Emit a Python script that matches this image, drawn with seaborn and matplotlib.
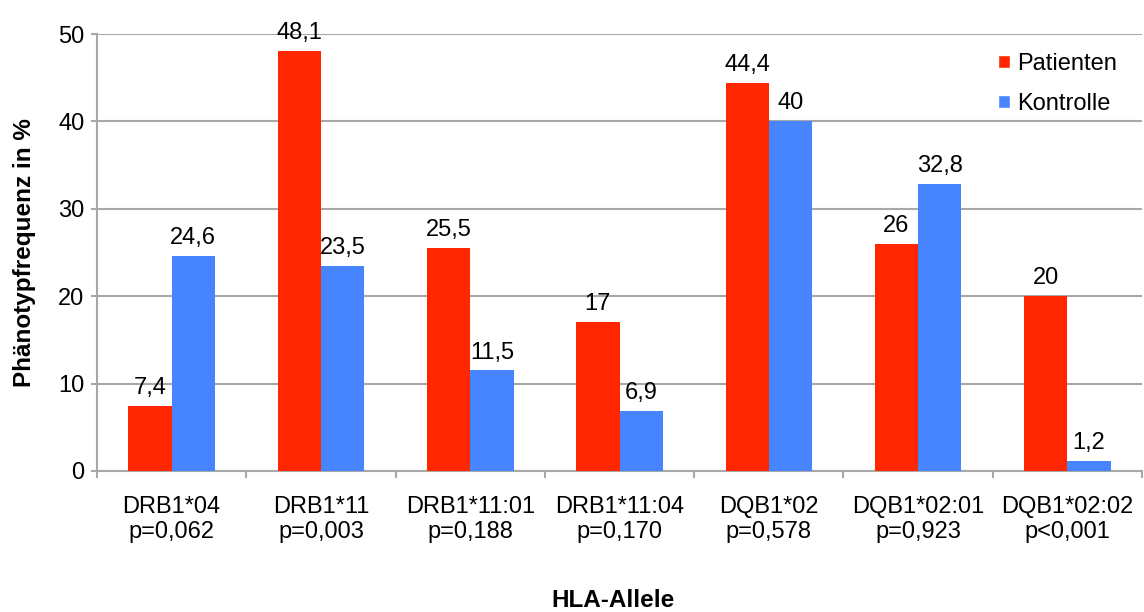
import pandas as pd
import seaborn as sns
import matplotlib.pyplot as plt
from matplotlib.patches import Patch

# Werte aus der Abbildung
allele = ['DRB1*04\np=0,062', 'DRB1*11\np=0,003', 'DRB1*11:01\np=0,188',
          'DRB1*11:04\np=0,170', 'DQB1*02\np=0,578', 'DQB1*02:01\np=0,923',
          'DQB1*02:02\np<0,001']
patienten = [7.4, 48.1, 25.5, 17, 44.4, 26, 20]
kontrolle = [24.6, 23.5, 11.5, 6.9, 40, 32.8, 1.2]
gruppen = ['Patienten', 'Kontrolle']
farben = ['#FF2600', '#4785FF']

df = pd.DataFrame({
    'Allel': allele * 2,
    'Wert': patienten + kontrolle,
    'Gruppe': [gruppen[0]] * len(allele) + [gruppen[1]] * len(allele),
})

sns.set_style('white', {'text.color': 'black', 'axes.labelcolor': 'black',
                        'xtick.color': 'black', 'ytick.color': 'black'})
plt.rcParams['font.family'] = ['Liberation Sans', 'DejaVu Sans']

fig = plt.figure(figsize=(11.44, 6.12), dpi=100)
ax = fig.add_axes([0.0848, 0.2304, 0.9135, 0.714])

sns.barplot(data=df, x='Allel', y='Wert', hue='Gruppe', palette=farben,
            width=0.58, saturation=1, ax=ax, legend=False, zorder=3, linewidth=0)

gitter = '#A8A8A8'
ax.set_ylim(0, 50)
ax.set_xlim(-0.5, len(allele) - 0.5)
ax.set_yticks([0, 10, 20, 30, 40, 50])
ax.yaxis.grid(True, color=gitter, linewidth=1.5, zorder=0)
ax.set_axisbelow(True)
for s in ['top', 'right']:
    ax.spines[s].set_visible(False)
for s in ['left', 'bottom']:
    ax.spines[s].set_color(gitter)
    ax.spines[s].set_linewidth(1.5)

ax.tick_params(axis='y', length=4, width=1.5, color=gitter, labelcolor='black',
               labelsize=17, pad=5, left=True)
ax.tick_params(axis='x', which='major', length=0, labelcolor='black', labelsize=17, pad=18)
ax.set_xticks([i - 0.5 for i in range(len(allele) + 1)], minor=True)
ax.tick_params(axis='x', which='minor', length=5, width=1.5, color=gitter, bottom=True)
for lbl in ax.get_xticklabels():
    lbl.set_linespacing(1.2)

for cont in ax.containers:
    ax.bar_label(cont, fmt=lambda v: f'{v:g}'.replace('.', ','), padding=5,
                 fontsize=17, color='black')

ax.set_ylabel('Phänotypfrequenz in %', fontsize=17.5, fontweight='bold', labelpad=16)
ax.set_xlabel('HLA-Allele', fontsize=17.5, fontweight='bold')
ax.xaxis.set_label_coords(0.494, -0.27)

handles = [Patch(facecolor=f, label=g) for f, g in zip(farben, gruppen)]
ax.legend(handles=handles, loc='upper right', bbox_to_anchor=(0.996, 1.005), frameon=False,
          fontsize=17, handlelength=0.5, handleheight=0.5, handletextpad=0.3,
          labelspacing=0.75, labelcolor='black')

plt.savefig('out.png', dpi=100)
